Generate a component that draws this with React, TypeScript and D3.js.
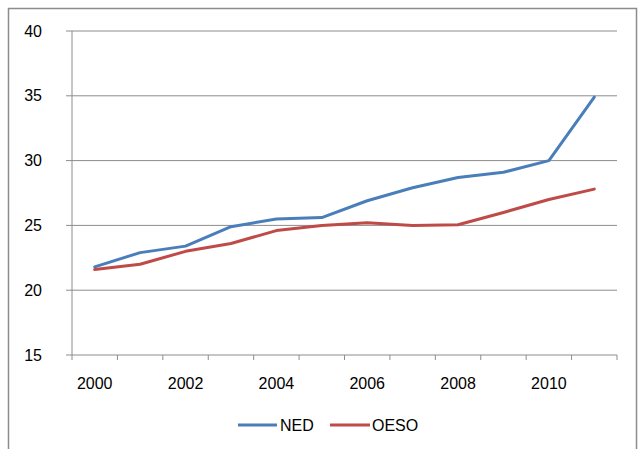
import * as d3 from "d3";

const width = 642;
const height = 449;

const years = ["2000", "2001", "2002", "2003", "2004", "2005", "2006", "2007", "2008", "2009", "2010", "2011"];
const ned = [21.8, 22.9, 23.4, 24.9, 25.5, 25.6, 26.9, 27.9, 28.7, 29.1, 30.0, 34.9];
const oeso = [21.6, 22.0, 23.0, 23.6, 24.6, 25.0, 25.2, 25.0, 25.05, 26.0, 27.0, 27.8];
const yTicks = [15, 20, 25, 30, 35, 40];
const xLabels = ["2000", "2002", "2004", "2006", "2008", "2010"];

const series = [
  { name: "NED", values: ned, color: "#4A7EBB" },
  { name: "OESO", values: oeso, color: "#BE4B48" },
];

const margin = { left: 72, right: 25, top: 31, bottom: 94 };
const font = "'Liberation Sans', Arial, sans-serif";

export default function App() {
  const x = d3
    .scaleBand<string>()
    .domain(years)
    .range([margin.left, width - margin.right]);
  const y = d3
    .scaleLinear()
    .domain([15, 40])
    .range([height - margin.bottom, margin.top]);

  const line = d3
    .line<number>()
    .x((_, i) => (x(years[i]) ?? 0) + x.bandwidth() / 2)
    .y((d) => y(d));

  const bottom = y(15);
  const tickXs = years.map((yr) => x(yr) ?? 0).concat([width - margin.right]);

  return (
    <svg
      width={width}
      height={height}
      style={{ position: "absolute", left: 0, top: 0, background: "#fff" }}
      fontFamily={font}
    >
      <rect x={8.5} y={8.5} width={628} height={470} fill="#fff" stroke="#8c8c8c" strokeWidth={1.5} />
      {yTicks.map((t) => (
        <g key={t}>
          {t > 15 && (
            <line
              x1={margin.left - 6}
              x2={width - margin.right}
              y1={y(t)}
              y2={y(t)}
              stroke="#8c8c8c"
              strokeWidth={1}
            />
          )}
          <text x={42} y={y(t)} dy="0.35em" textAnchor="end" fontSize={16} fill="#000">
            {t}
          </text>
        </g>
      ))}
      <line x1={margin.left} x2={margin.left} y1={margin.top} y2={bottom} stroke="#8c8c8c" />
      <line x1={margin.left - 6} x2={width - margin.right} y1={bottom} y2={bottom} stroke="#8c8c8c" />
      {tickXs.map((tx, i) => (
        <line key={i} x1={tx} x2={tx} y1={bottom} y2={bottom + 5} stroke="#8c8c8c" />
      ))}
      {xLabels.map((l) => (
        <text
          key={l}
          x={(x(l) ?? 0) + x.bandwidth() / 2}
          y={383}
          dy="0.35em"
          textAnchor="middle"
          fontSize={16}
          fill="#000"
        >
          {l}
        </text>
      ))}
      {series.map((s) => (
        <path
          key={s.name}
          d={line(s.values) ?? ""}
          fill="none"
          stroke={s.color}
          strokeWidth={3}
          strokeLinejoin="round"
          strokeLinecap="round"
        />
      ))}
      <g>
        <line x1={238} x2={277} y1={425} y2={425} stroke={series[0].color} strokeWidth={3} />
        <text x={280} y={425} dy="0.35em" fontSize={16} fill="#000">
          {series[0].name}
        </text>
        <line x1={330} x2={370} y1={425} y2={425} stroke={series[1].color} strokeWidth={3} />
        <text x={372} y={425} dy="0.35em" fontSize={16} fill="#000">
          {series[1].name}
        </text>
      </g>
    </svg>
  );
}
